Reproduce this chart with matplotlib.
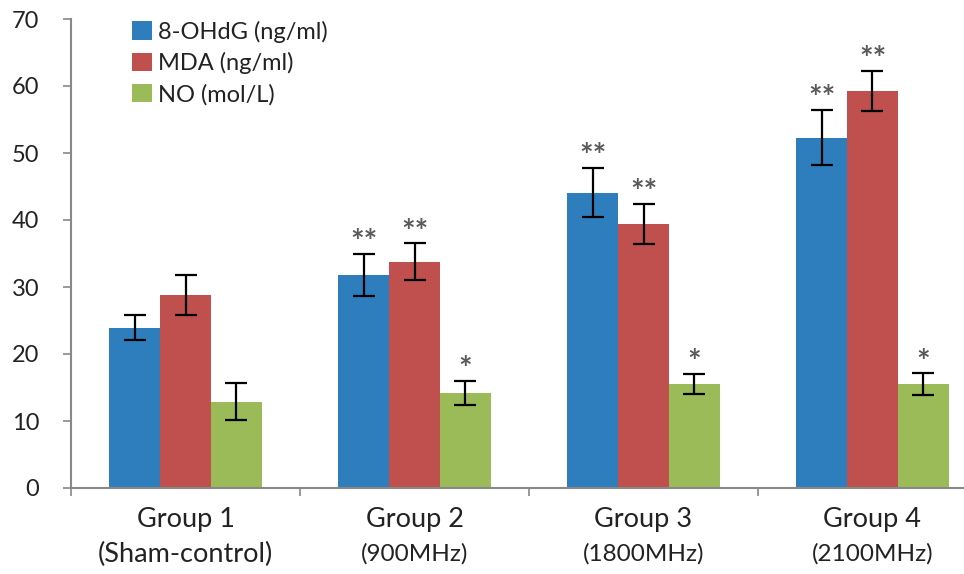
import matplotlib
matplotlib.use("Agg")
import matplotlib.pyplot as plt
import numpy as np
from matplotlib.transforms import blended_transform_factory

plt.rcParams['font.family'] = ['Lato', 'DejaVu Sans']

groups = ["Group 1", "Group 2", "Group 3", "Group 4"]
subgroups = ["(Sham-control)", "(900MHz)", "(1800MHz)", "(2100MHz)"]
series = ["8-OHdG (ng/ml)", "MDA (ng/ml)", "NO (mol/L)"]

ohdg = [23.9, 31.8, 44.1, 52.3]
ohdg_err = [1.85, 3.2, 3.7, 4.1]
mda = [28.8, 33.8, 39.4, 59.3]
mda_err = [3.0, 2.7, 3.0, 3.0]
no = [12.9, 14.2, 15.5, 15.5]
no_err = [2.7, 1.8, 1.5, 1.6]

ohdg_sig = ["", "**", "**", "**"]
mda_sig = ["", "**", "**", "**"]
no_sig = ["", "*", "*", "*"]

colors = ["#2E7EBE", "#C0504D", "#9BBB59"]

fig = plt.figure(figsize=(9.64, 5.74), dpi=100)
ax = fig.add_axes([71/964, 86/574, 916/964, 469/574])

x = np.arange(len(groups))
w = 0.222
vals = [ohdg, mda, no]
errs = [ohdg_err, mda_err, no_err]
sigs = [ohdg_sig, mda_sig, no_sig]
for k in range(3):
    pos = x + (k - 1) * w
    ax.bar(pos, vals[k], w, color=colors[k], label=series[k], zorder=2)
    ax.errorbar(pos, vals[k], yerr=errs[k], fmt='none', ecolor='black',
                elinewidth=1.6, capsize=8, capthick=1.6, zorder=3)
    for p, v, e, s in zip(pos, vals[k], errs[k], sigs[k]):
        if s:
            ax.annotate(s, (p, v + e), xytext=(0, -3), textcoords='offset points',
                        ha='center', va='bottom', fontsize=23, color='#5a5a5a',
                        fontweight='bold')

ax.set_xlim(-0.5, 3.5)
ax.set_ylim(0, 70)
ax.set_yticks(np.arange(0, 71, 10))
ax.tick_params(axis='y', labelsize=17, length=6, color='#888888', width=1.2,
               pad=17, labelcolor='#222222')
ax.set_xticks([])
ax.set_xticks(np.arange(-0.5, 4, 1), minor=True)
ax.tick_params(axis='x', which='minor', length=6, color='#888888', width=1.2)
for sp in ['top', 'right']:
    ax.spines[sp].set_visible(False)
for sp in ['left', 'bottom']:
    ax.spines[sp].set_color('#888888')
    ax.spines[sp].set_linewidth(1.5)

tr = blended_transform_factory(ax.transData, fig.transFigure)
for i, (g, s) in enumerate(zip(groups, subgroups)):
    ax.text(i, 1 - 519/574, g, transform=tr, ha='center', va='center',
            fontsize=19.5, color='#222222')
    ax.text(i, 1 - 554/574, s, transform=tr, ha='center', va='center',
            fontsize=19.5 if i == 0 else 17.5, color='#222222')

leg = ax.legend(loc='upper left', bbox_to_anchor=(115/964, 1 - 4/574),
                bbox_transform=fig.transFigure, frameon=False, fontsize=17,
                handlelength=0.85, handleheight=0.85, handletextpad=0.25,
                labelspacing=0.4, borderpad=0.2)
for t in leg.get_texts():
    t.set_color('#222222')

fig.savefig("out.png", dpi=100)
